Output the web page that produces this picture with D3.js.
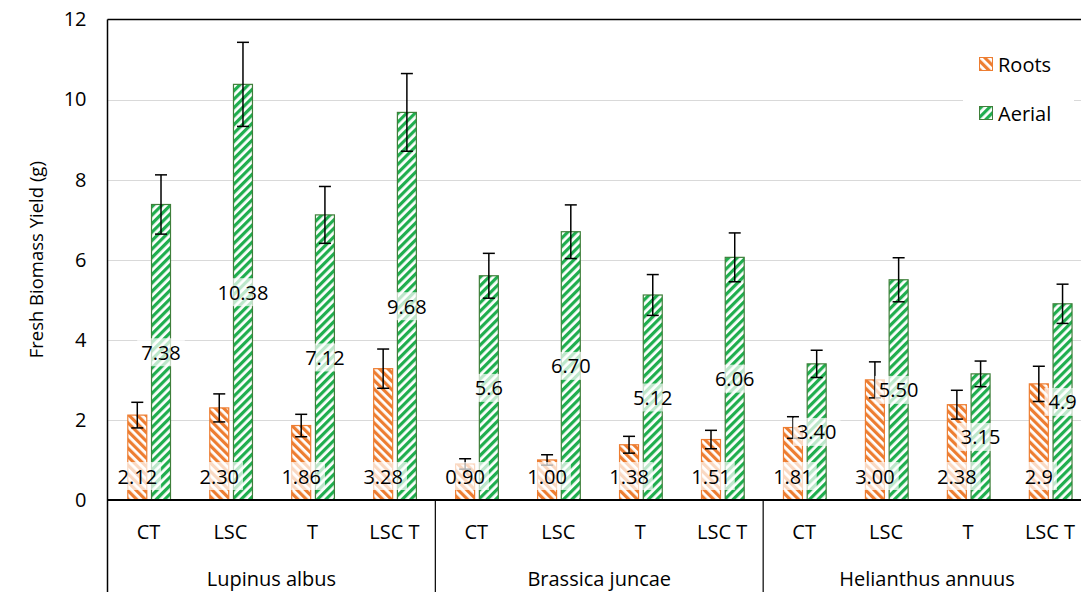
<!DOCTYPE html>
<html>
<head>
<meta charset="utf-8">
<script src="https://cdn.jsdelivr.net/npm/d3@7"></script>
<style>
  html, body { margin: 0; padding: 0; background: #fff; }
  svg { display: block; font-family: "Open Sans", "Liberation Sans", sans-serif; }
</style>
</head>
<body>
<svg id="chart" width="1081" height="592"></svg>
<script>
// Fresh biomass (g) of roots and aerial parts per species and treatment
const species = ["Lupinus albus", "Brassica juncae", "Helianthus annuus"];
const treatments = ["CT", "LSC", "T", "LSC T"];
const seriesNames = ["Roots", "Aerial"];

const rootsValues  = [2.12, 2.30, 1.86, 3.28, 0.90, 1.00, 1.38, 1.51, 1.81, 3.00, 2.38, 2.9];
const aerialValues = [7.38, 10.38, 7.12, 9.68, 5.6, 6.70, 5.12, 6.06, 3.40, 5.50, 3.15, 4.9];
const rootsLabels  = ["2.12", "2.30", "1.86", "3.28", "0.90", "1.00", "1.38", "1.51", "1.81", "3.00", "2.38", "2.9"];
const aerialLabels = ["7.38", "10.38", "7.12", "9.68", "5.6", "6.70", "5.12", "6.06", "3.40", "5.50", "3.15", "4.9"];
const rootsErrors  = [0.32, 0.35, 0.28, 0.49, 0.13, 0.13, 0.21, 0.23, 0.27, 0.45, 0.36, 0.44];
const aerialErrors = [0.74, 1.05, 0.71, 0.97, 0.56, 0.67, 0.51, 0.61, 0.34, 0.55, 0.32, 0.49];
const yTicks = [0, 2, 4, 6, 8, 10, 12];

const series = [
  { name: "Roots",  values: rootsValues,  labels: rootsLabels,  errors: rootsErrors,  pattern: "url(#hatch-roots)",  stroke: "#ED7D31" },
  { name: "Aerial", values: aerialValues, labels: aerialLabels, errors: aerialErrors, pattern: "url(#hatch-aerial)", stroke: "#3F7F3A" }
];

const svg = d3.select("#chart");
const plotLeft = 107.5, plotTop = 19.5, plotBottom = 500, plotRight = 1091;
const fontSize = 20;

// stripe patterns
const defs = svg.append("defs");
function hatch(id, color, dir) {
  const p = defs.append("pattern")
    .attr("id", id).attr("patternUnits", "userSpaceOnUse")
    .attr("width", 6).attr("height", 6)
    .attr("patternTransform", `rotate(${dir})`);
  p.append("rect").attr("width", 6).attr("height", 6).attr("fill", "#fff");
  p.append("rect").attr("width", 3.2).attr("height", 6).attr("fill", color);
}
hatch("hatch-roots", "#ED7D31", -45);
hatch("hatch-aerial", "#1FAE4E", 45);

const y = d3.scaleLinear().domain([0, 12]).range([plotBottom, plotTop]);

const cats = d3.range(species.length * treatments.length);
const x = d3.scaleBand().domain(cats).range([plotLeft, plotRight]).paddingInner(0).paddingOuter(0);
const xInner = d3.scaleBand().domain(seriesNames).range([20.3, 63]).paddingInner(0.2);

// gridlines
svg.append("g").selectAll("line").data(yTicks.filter(t => t > 0 && t < 12)).join("line")
  .attr("x1", plotLeft).attr("x2", plotRight)
  .attr("y1", d => Math.round(y(d)) + 0.5).attr("y2", d => Math.round(y(d)) + 0.5)
  .attr("stroke", "#d9d9d9").attr("stroke-width", 1);

// y axis labels
const yAxis = d3.axisLeft(y).tickValues(yTicks).tickSize(0).tickPadding(21);
svg.append("g").attr("transform", `translate(${plotLeft},0)`).call(yAxis)
  .call(g => g.select(".domain").remove())
  .selectAll("text").attr("font-size", fontSize).attr("fill", "#000")
  .attr("font-family", "\"Open Sans\", \"Liberation Sans\", sans-serif");

svg.append("text")
  .attr("transform", `translate(35,${(plotTop + plotBottom) / 2}) rotate(-90)`)
  .attr("text-anchor", "middle").attr("dominant-baseline", "central")
  .attr("font-size", 18.5).attr("fill", "#000")
  .text("Fresh Biomass Yield (g)");

// bars
const barG = svg.append("g");
series.forEach(s => {
  barG.selectAll(null).data(cats).join("rect")
    .attr("x", i => x(i) + xInner(s.name))
    .attr("width", xInner.bandwidth())
    .attr("y", i => y(s.values[i]))
    .attr("height", i => plotBottom - y(s.values[i]))
    .attr("fill", s.pattern)
    .attr("stroke", s.stroke).attr("stroke-width", 1.2);
});

// error bars
const errG = svg.append("g").attr("stroke", "#000").attr("stroke-width", 1.5);
series.forEach(s => {
  cats.forEach(i => {
    const cx = x(i) + xInner(s.name) + xInner.bandwidth() / 2;
    const hi = y(s.values[i] + s.errors[i]), lo = y(s.values[i] - s.errors[i]);
    errG.append("line").attr("x1", cx).attr("x2", cx).attr("y1", hi).attr("y2", lo);
    errG.append("line").attr("x1", cx - 6).attr("x2", cx + 6).attr("y1", hi).attr("y2", hi);
    errG.append("line").attr("x1", cx - 6).attr("x2", cx + 6).attr("y1", lo).attr("y2", lo);
  });
});

// data labels: roots at the inside base, aerial at the bar centre
const labG = svg.append("g");
series.forEach(s => {
  cats.forEach(i => {
    const cx = x(i) + xInner(s.name) + xInner.bandwidth() / 2;
    const cy = s.name === "Roots" ? plotBottom - 24 : y(s.values[i] / 2);
    const t = labG.append("text").attr("x", cx).attr("y", cy)
      .attr("text-anchor", "middle").attr("dominant-baseline", "central")
      .attr("font-size", fontSize).attr("fill", "#000").text(s.labels[i]);
    const bb = t.node().getBBox();
    labG.insert("rect", () => t.node())
      .attr("x", bb.x - 4).attr("y", cy - 14).attr("width", bb.width + 8).attr("height", 28)
      .attr("fill", "#fff").attr("fill-opacity", 0.7);
  });
});

// frame: top border, left axis, baseline
svg.append("line").attr("x1", plotLeft).attr("x2", plotRight).attr("y1", plotTop).attr("y2", plotTop)
  .attr("stroke", "#000").attr("stroke-width", 1.5);
svg.append("line").attr("x1", plotLeft).attr("x2", plotLeft).attr("y1", plotTop).attr("y2", 592)
  .attr("stroke", "#000").attr("stroke-width", 1.5);
svg.append("line").attr("x1", plotLeft).attr("x2", plotRight).attr("y1", plotBottom).attr("y2", plotBottom)
  .attr("stroke", "#000").attr("stroke-width", 2);

// category axis: treatments and species
const catG = svg.append("g").attr("font-size", fontSize).attr("fill", "#000").attr("text-anchor", "middle");
cats.forEach(i => {
  catG.append("text").attr("x", x(i) + x.bandwidth() / 2).attr("y", 531)
    .attr("dominant-baseline", "central").text(treatments[i % treatments.length]);
});
const xGroup = d3.scaleBand().domain(species).range([plotLeft, plotRight]);
species.forEach(sp => {
  catG.append("text").attr("x", xGroup(sp) + xGroup.bandwidth() / 2).attr("y", 578)
    .attr("dominant-baseline", "central").text(sp);
  if (xGroup(sp) > plotLeft) {
    svg.append("line").attr("x1", xGroup(sp)).attr("x2", xGroup(sp)).attr("y1", plotBottom).attr("y2", 592)
      .attr("stroke", "#000").attr("stroke-width", 1.2);
  }
});

// legend
const leg = svg.append("g");
leg.append("rect").attr("x", 963).attr("y", 40).attr("width", 111).attr("height", 96).attr("fill", "#fff");
series.forEach((s, k) => {
  const ly = 64 + k * 49;
  leg.append("rect").attr("x", 979.5).attr("y", ly - 6.5).attr("width", 13).attr("height", 13)
    .attr("fill", s.pattern).attr("stroke", s.stroke).attr("stroke-width", 1);
  leg.append("text").attr("x", 998).attr("y", ly).attr("dominant-baseline", "central")
    .attr("font-size", fontSize).attr("fill", "#000").text(s.name);
});
</script>
</body>
</html>
